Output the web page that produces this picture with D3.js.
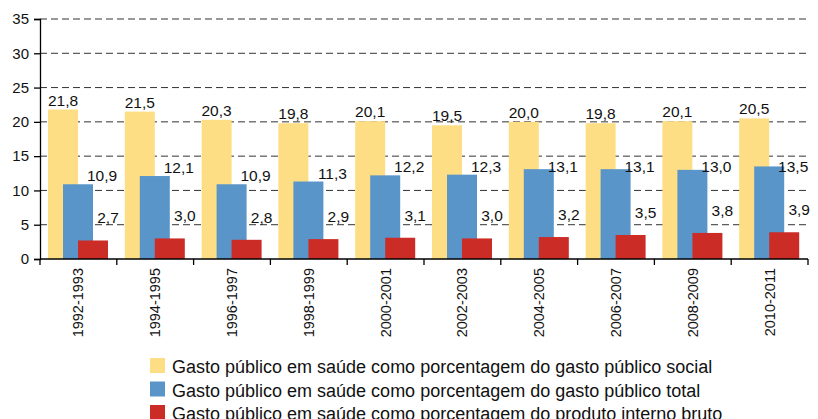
<!DOCTYPE html>
<html>
<head>
<meta charset="utf-8">
<script src="https://d3js.org/d3.v7.min.js"></script>
<style>
  body { margin: 0; background: #fff; }
  svg { font-family: "Liberation Sans", Arial, sans-serif; }
</style>
</head>
<body>
<div id="chart"></div>
<script>
// periods on the x axis
var periods = ['1992-1993', '1994-1995', '1996-1997', '1998-1999', '2000-2001',
               '2002-2003', '2004-2005', '2006-2007', '2008-2009', '2010-2011'];
// % of social public spending
var socialShare = [21.8, 21.5, 20.3, 19.8, 20.1, 19.5, 20.0, 19.8, 20.1, 20.5];
// % of total public spending
var totalShare = [10.9, 12.1, 10.9, 11.3, 12.2, 12.3, 13.1, 13.1, 13.0, 13.5];
// % of GDP
var gdpShare = [2.7, 3.0, 2.8, 2.9, 3.1, 3.0, 3.2, 3.5, 3.8, 3.9];
var yTicks = [0, 5, 10, 15, 20, 25, 30, 35];
var seriesNames = [
    'Gasto público em saúde como porcentagem do gasto público social',
    'Gasto público em saúde como porcentagem do gasto público total',
    'Gasto público em saúde como porcentagem do produto interno bruto'
];

var colors = ['#FEDE84', '#5A95C9', '#CC2C26'];
var series = [socialShare, totalShare, gdpShare];

var width = 818, height = 419;
var svg = d3.select('#chart').append('svg')
    .attr('width', width)
    .attr('height', height);

var x = d3.scaleBand().domain(periods).range([40, 808]).padding(0);
var y = d3.scaleLinear().domain([0, 35]).range([259, 19]);
var offset = d3.scaleLinear().domain([0, 2]).range([8, 38]);
var barW = 30;

var locale = d3.formatLocale({ decimal: ',', thousands: '.', grouping: [3], currency: ['', ''] });
var fmt = locale.format('.1f');

// dashed grid
svg.append('g')
    .selectAll('line')
    .data(yTicks.filter(function (t) { return t > 0; }))
    .join('line')
    .attr('x1', 40).attr('x2', 808)
    .attr('y1', function (d) { return y(d); })
    .attr('y2', function (d) { return y(d); })
    .attr('stroke', '#333')
    .attr('stroke-width', 1)
    .attr('stroke-dasharray', '7,4');

// bars
series.forEach(function (vals, s) {
    svg.append('g')
        .selectAll('rect')
        .data(vals)
        .join('rect')
        .attr('x', function (d, i) { return x(periods[i]) + offset(s); })
        .attr('y', function (d) { return y(d); })
        .attr('width', barW)
        .attr('height', function (d) { return y(0) - y(d); })
        .attr('fill', colors[s]);
});

// value labels (middle series kept under the 15 gridline, like the original)
var labelDx = [barW / 2, barW / 2 + 24, barW / 2 + 15];
var labelY = [
    function (v) { return y(v) - 4; },
    function (v) { return Math.max(y(v) - 3, y(15) + 16); },
    function (v) { return y(v) - 17; }
];
series.forEach(function (vals, s) {
    svg.append('g')
        .selectAll('text')
        .data(vals)
        .join('text')
        .attr('x', function (d, i) { return x(periods[i]) + offset(s) + labelDx[s]; })
        .attr('y', function (d) { return labelY[s](d); })
        .attr('text-anchor', 'middle')
        .attr('font-size', 15.5)
        .attr('fill', '#111')
        .text(function (d) { return fmt(d); });
});

// y axis
var yAxis = svg.append('g')
    .attr('transform', 'translate(40,0)')
    .call(d3.axisLeft(y).tickValues(yTicks).tickSize(6).tickPadding(5).tickFormat(d3.format('d')));
yAxis.select('.domain').attr('stroke', '#000').attr('stroke-width', 1.3);
yAxis.selectAll('.tick line').attr('stroke', '#000').attr('stroke-width', 1.3);
yAxis.selectAll('text').attr('font-size', 15).attr('fill', '#111')
    .attr('font-family', '"Liberation Sans", Arial, sans-serif');

// x axis with ticks at band edges
var xAxis = svg.append('g').attr('transform', 'translate(0,' + y(0) + ')');
xAxis.append('line')
    .attr('x1', 40).attr('x2', 808)
    .attr('stroke', '#000').attr('stroke-width', 1.3);
xAxis.selectAll('line.tk')
    .data(periods.concat(['end']))
    .join('line')
    .attr('class', 'tk')
    .attr('x1', function (d) { return d === 'end' ? x.range()[1] : x(d); })
    .attr('x2', function (d) { return d === 'end' ? x.range()[1] : x(d); })
    .attr('y1', 0).attr('y2', 6)
    .attr('stroke', '#000').attr('stroke-width', 1.3);
xAxis.selectAll('text')
    .data(periods)
    .join('text')
    .attr('transform', function (d) {
        return 'translate(' + (x(d) + x.bandwidth() / 2 + 5) + ',9) rotate(-90)';
    })
    .attr('text-anchor', 'end')
    .attr('font-size', 14.5)
    .attr('fill', '#111')
    .text(function (d) { return d; });

// legend
var legend = svg.append('g').attr('transform', 'translate(150,358)');
var rows = legend.selectAll('g')
    .data(seriesNames)
    .join('g')
    .attr('transform', function (d, i) { return 'translate(0,' + i * 23.5 + ')'; });
rows.append('rect')
    .attr('width', 15).attr('height', 15)
    .attr('fill', function (d, i) { return colors[i]; });
rows.append('text')
    .attr('x', 22).attr('y', 15)
    .attr('font-size', 18)
    .attr('fill', '#111')
    .text(function (d) { return d; });
</script>
</body>
</html>
